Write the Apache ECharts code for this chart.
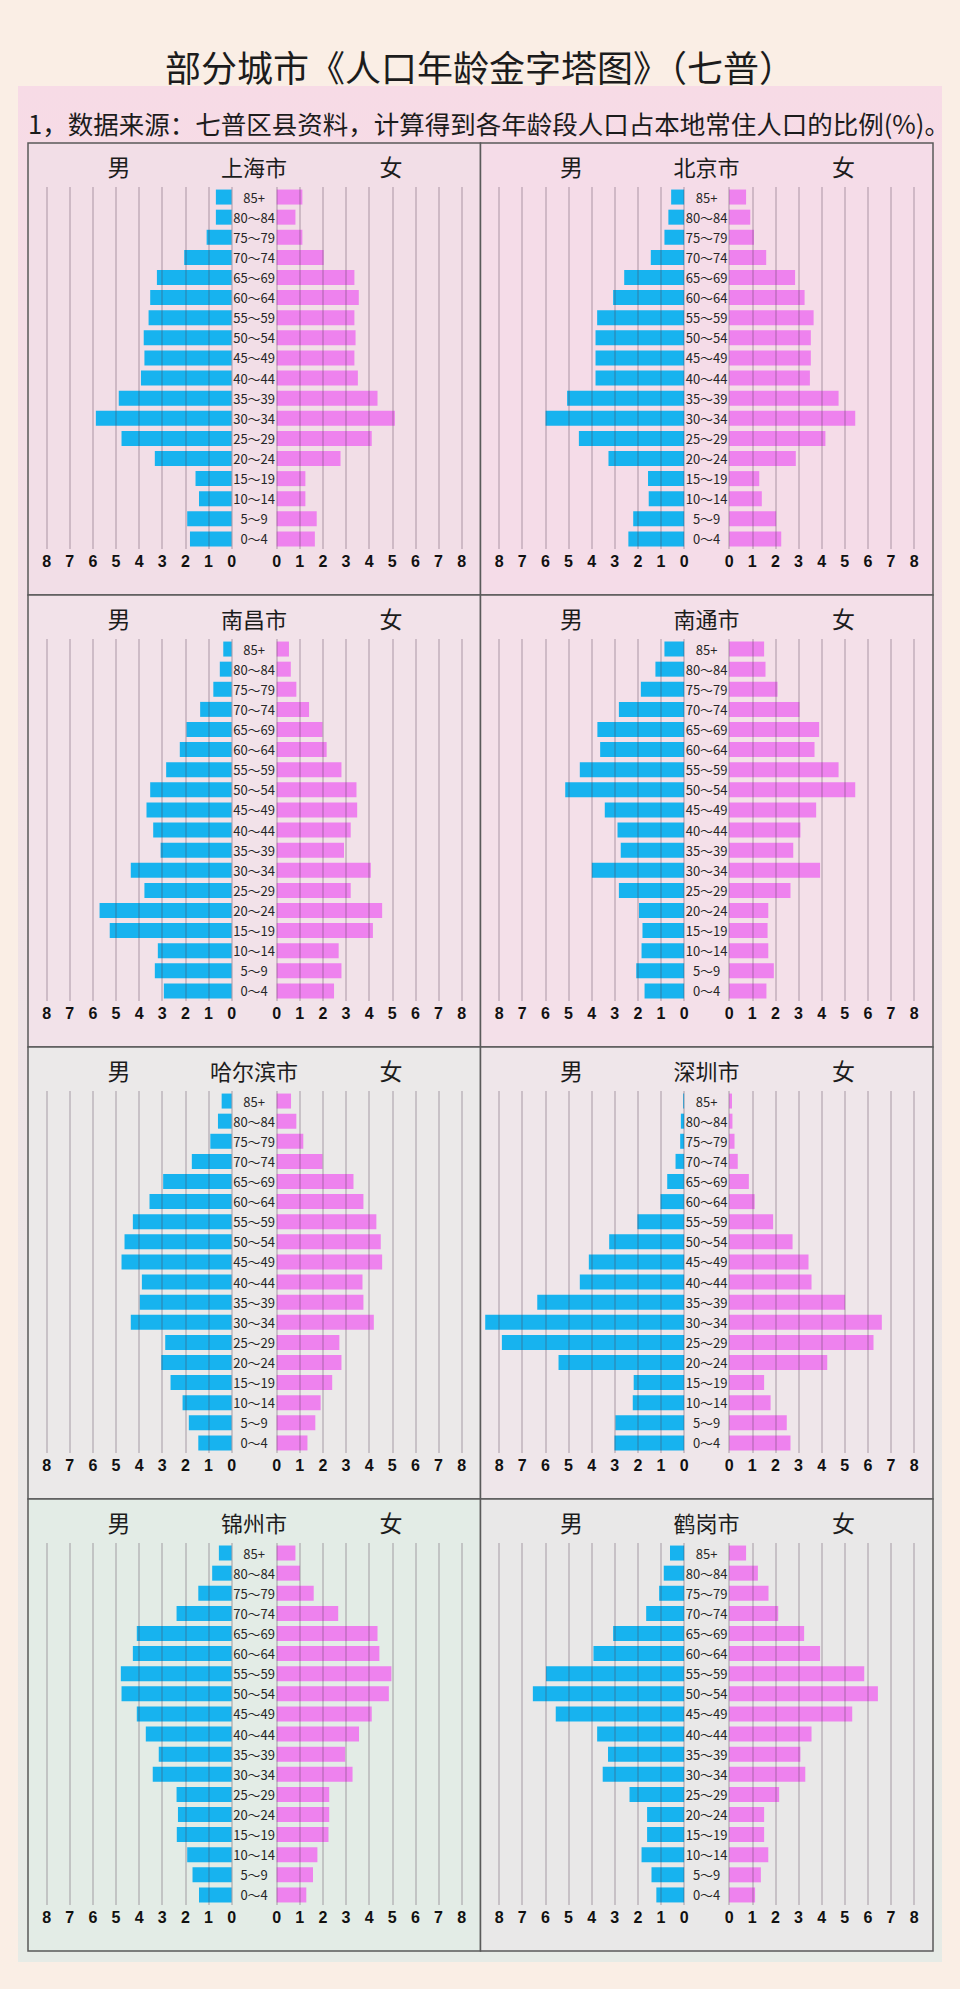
<!DOCTYPE html>
<html><head><meta charset="utf-8">
<script src="https://cdn.jsdelivr.net/npm/echarts@6/dist/echarts.min.js"></script>
<style>html,body{margin:0;padding:0;background:#faeee5}#c{width:960px;height:1989px}</style>
</head><body><div id="c"></div>
<script>
// ---- data ----
const ages = ['0～4','5～9','10～14','15～19','20～24','25～29','30～34','35～39','40～44','45～49','50～54','55～59','60～64','65～69','70～74','75～79','80～84','85+'];
const cities = ['上海市','北京市','南昌市','南通市','哈尔滨市','深圳市','锦州市','鹤岗市'];
const axisMin = 0, axisMax = 8, axisStep = 1;

const shanghaiMale   = [1.80,1.92,1.41,1.56,3.32,4.76,5.87,4.88,3.92,3.77,3.80,3.59,3.52,3.23,2.05,1.08,0.68,0.68];
const shanghaiFemale = [1.65,1.73,1.24,1.24,2.76,4.11,5.11,4.36,3.51,3.36,3.41,3.36,3.55,3.36,2.03,1.11,0.81,1.11];
const beijingMale    = [2.41,2.20,1.53,1.56,3.27,4.55,5.99,5.06,3.83,3.83,3.83,3.76,3.07,2.59,1.44,0.85,0.68,0.56];
const beijingFemale  = [2.25,2.03,1.41,1.30,2.88,4.16,5.45,4.73,3.49,3.53,3.53,3.65,3.26,2.85,1.60,1.07,0.91,0.73];
const nanchangMale   = [2.93,3.32,3.19,5.27,5.71,3.77,4.36,3.07,3.39,3.68,3.52,2.83,2.24,1.95,1.36,0.79,0.51,0.36];
const nanchangFemale = [2.48,2.80,2.68,4.16,4.56,3.20,4.07,2.91,3.20,3.48,3.45,2.80,2.16,1.98,1.40,0.85,0.61,0.53];
const nantongMale    = [1.71,2.07,1.84,1.80,1.95,2.82,3.99,2.74,2.88,3.43,5.14,4.51,3.63,3.75,2.82,1.87,1.24,0.85];
const nantongFemale  = [1.61,1.93,1.69,1.66,1.69,2.65,3.93,2.77,3.08,3.76,5.45,4.73,3.69,3.89,3.04,2.09,1.57,1.51];
const harbinMale     = [1.44,1.85,2.12,2.64,3.04,2.87,4.36,3.97,3.88,4.76,4.63,4.27,3.55,2.96,1.72,0.92,0.59,0.43];
const harbinFemale   = [1.33,1.67,1.90,2.40,2.80,2.71,4.20,3.75,3.71,4.56,4.50,4.31,3.75,3.32,1.98,1.15,0.85,0.62];
const shenzhenMale   = [3.01,2.97,2.22,2.18,5.43,7.88,8.60,6.35,4.51,4.12,3.24,2.02,1.02,0.73,0.37,0.17,0.14,0.04];
const shenzhenFemale = [2.65,2.49,1.79,1.51,4.24,6.24,6.60,5.01,3.56,3.43,2.74,1.90,1.10,0.85,0.37,0.23,0.14,0.12];
const jinzhouMale    = [1.41,1.69,1.92,2.37,2.32,2.38,3.41,3.15,3.71,4.10,4.76,4.79,4.27,4.10,2.38,1.44,0.84,0.55];
const jinzhouFemale  = [1.28,1.57,1.76,2.24,2.27,2.27,3.28,2.96,3.56,4.11,4.85,4.96,4.44,4.36,2.66,1.60,1.00,0.81];
const hegangMale     = [1.20,1.41,1.84,1.60,1.60,2.36,3.52,3.29,3.76,5.55,6.54,5.97,3.92,3.07,1.64,1.08,0.88,0.61];
const hegangFemale   = [1.12,1.37,1.69,1.51,1.51,2.16,3.29,3.08,3.56,5.32,6.43,5.84,3.93,3.24,2.12,1.70,1.24,0.73];

const maleData   = [shanghaiMale, beijingMale, nanchangMale, nantongMale, harbinMale, shenzhenMale, jinzhouMale, hegangMale];
const femaleData = [shanghaiFemale, beijingFemale, nanchangFemale, nantongFemale, harbinFemale, shenzhenFemale, jinzhouFemale, hegangFemale];

const mainTitle = '部分城市《人口年龄金字塔图》（七普）';
const subTitle = '1，数据来源：七普区县资料，计算得到各年龄段人口占本地常住人口的比例(%)。';
const maleLabel = '男', femaleLabel = '女';

// ---- layout ----
const panelX = [28, 480.5];
const panelY = [143, 595, 1047, 1499];
const PW = 452.5, PH = 452;
const panelFill = ['#f2dee7','#f5dce8','#f2e2e9','#f4e0e9','#ebe9e9','#efe6ea','#e3ece6','#e9e8e8'];
const CJK = '"Noto Sans CJK SC", "Noto Sans", sans-serif';

const grids = [], xAxes = [], yAxes = [], series = [];
const graphics = [
  {type:'rect', z:-10, shape:{x:18,y:86,width:924,height:1876},
   style:{fill:{type:'linear',x:0,y:0,x2:0,y2:1,colorStops:[{offset:0,color:'#f7dbe6'},{offset:1,color:'#e6ebe6'}]}}},
  {type:'text', z:10, style:{text:mainTitle, x:480, y:66, align:'center', verticalAlign:'middle', font:'normal 36px ' + CJK, fill:'#1c1c1c'}},
  {type:'text', z:10, style:{text:subTitle, x:28, y:122, align:'left', verticalAlign:'middle', font:'normal 25.5px ' + CJK, fill:'#1c1c1c'}}
];

cities.forEach((name, i) => {
  const x0 = panelX[i % 2], y0 = panelY[Math.floor(i / 2)];
  graphics.push({type:'rect', z:-9, shape:{x:x0, y:y0, width:PW, height:PH}, style:{fill:panelFill[i], stroke:'#5a5a5a', lineWidth:1.5}});
  graphics.push({type:'text', z:10, style:{text:maleLabel, x:x0+91, y:y0+23, align:'center', verticalAlign:'middle', font:'normal 23px ' + CJK, fill:'#1c1c1c'}});
  graphics.push({type:'text', z:10, style:{text:name, x:x0+226, y:y0+23, align:'center', verticalAlign:'middle', font:'normal 22px ' + CJK, fill:'#1c1c1c'}});
  graphics.push({type:'text', z:10, style:{text:femaleLabel, x:x0+363, y:y0+23, align:'center', verticalAlign:'middle', font:'normal 23px ' + CJK, fill:'#1c1c1c'}});

  const gl = grids.length;
  grids.push({left:x0+18.6, top:y0+44, width:185, height:362, outerBoundsMode:'none'});
  grids.push({left:x0+248.7, top:y0+44, width:185, height:362, outerBoundsMode:'none'});
  [0,1].forEach(side => {
    xAxes.push({
      gridIndex: gl + side, type:'value', min:axisMin, max:axisMax, interval:axisStep,
      inverse: side === 0, z:5,
      axisLine:{show:false}, axisTick:{show:false},
      splitLine:{show:true, lineStyle:{color:'rgba(80,60,80,0.3)', width:1.5}},
      axisLabel:{margin:4, fontSize:16, fontWeight:'bold', color:'#111', fontFamily:'"Liberation Sans", Arial, sans-serif'}
    });
    yAxes.push({
      gridIndex: gl + side, type:'category', data: ages, position:'left', show: side === 1,
      axisLine:{show:false}, axisTick:{show:false}, splitLine:{show:false},
      axisLabel:{show: side === 1, align:'center', margin:22.6, fontSize:13, color:'#262626', fontFamily:CJK, interval:0}
    });
  });
  series.push({type:'bar', name:name + maleLabel, xAxisIndex:gl, yAxisIndex:gl, data:maleData[i], barWidth:15, clip:false, silent:true, itemStyle:{color:'#17b3ef'}});
  series.push({type:'bar', name:name + femaleLabel, xAxisIndex:gl+1, yAxisIndex:gl+1, data:femaleData[i], barWidth:15, clip:false, silent:true, itemStyle:{color:'#ee82ee'}});
});

const chart = echarts.init(document.getElementById('c'), null, {renderer:'svg', width:960, height:1989});
chart.setOption({
  backgroundColor:'#faeee5',
  animation:false,
  grid: grids, xAxis: xAxes, yAxis: yAxes, series: series,
  graphic: graphics
});
</script></body></html>
